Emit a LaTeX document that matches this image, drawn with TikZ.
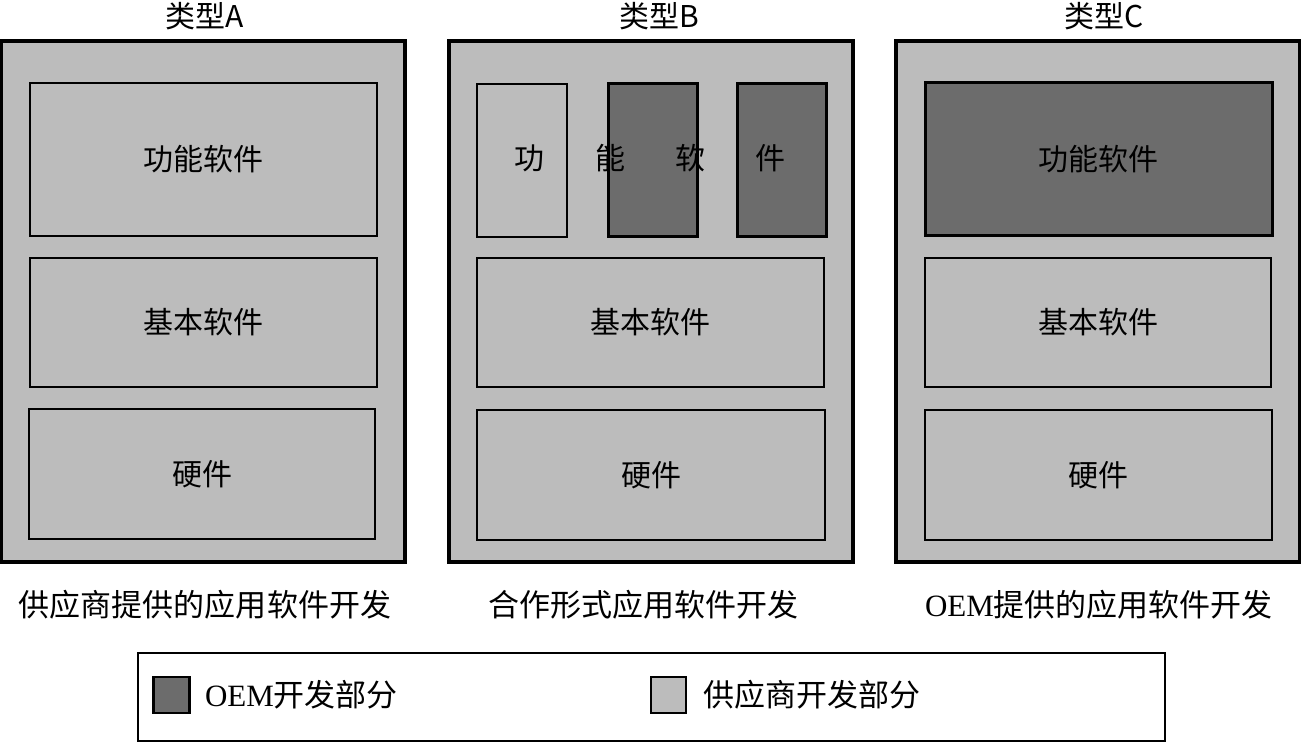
\documentclass[tikz,border=0pt]{standalone}
\usepackage{fontspec}
\setmainfont{Liberation Serif}
\newfontfamily\cjk{Noto Sans CJK SC}
\definecolor{lightg}{RGB}{188,188,188}
\definecolor{darkg}{RGB}{108,108,108}
\newcommand{\mybox}[7]{%
  \node[#6, minimum width={(#4-#2)*1pt}, minimum height={(#5-#3)*1pt}] (#1) at ({(#2+#4)/2},{(#3+#5)/2}) {#7};}
\begin{document}
\begin{tikzpicture}[x=1pt,y=-1pt,
  every node/.style={inner sep=0pt, outer sep=0pt, font=\fontsize{30}{36}\selectfont},
  panel/.style={draw, line width=3.2pt, fill=lightg, rectangle},
  sup/.style={draw, line width=2.8pt, fill=lightg, rectangle},
  oem/.style={draw, line width=3pt, fill=darkg, rectangle},
  lab/.style={},
  big/.style={font=\fontsize{31}{37}\selectfont},
]
\useasboundingbox (0,0) rectangle (1301,743);
% panels
\mybox{pA}{1.6}{41}{405}{562}{panel}{}
\mybox{pB}{449}{41}{853}{562}{panel}{}
\mybox{pC}{896}{41}{1299.4}{562}{panel}{}
% titles
\node[lab] (tA) at (205,16) {\cjk{类型}A};
\node[lab] (tB) at (659,16) {\cjk{类型}B};
\node[lab] (tC) at (1104,16) {\cjk{类型}C};
% panel A
\mybox{aF}{30}{83}{377}{236}{sup}{\cjk{功能软件}}
\mybox{aB}{30}{258}{377}{387}{sup}{\cjk{基本软件}}
\mybox{aH}{29}{409}{375}{539}{sup}{\cjk{硬件}}
% panel B
\mybox{bF1}{477}{84}{567}{237}{sup}{}
\mybox{bF2}{608}{84}{697}{237}{oem}{}
\mybox{bF3}{737}{84}{826}{237}{oem}{}
\node[lab] (bFt) at (650,158) {\cjk{功\hspace{51pt}能\hspace{50pt}软\hspace{50pt}件}};
\mybox{bB}{477}{258}{824}{387}{sup}{\cjk{基本软件}}
\mybox{bH}{477}{410}{825}{540}{sup}{\cjk{硬件}}
% panel C
\mybox{cF}{925}{83}{1272}{236}{oem}{\cjk{功能软件}}
\mybox{cB}{925}{258}{1271}{387}{sup}{\cjk{基本软件}}
\mybox{cH}{925}{410}{1272}{540}{sup}{\cjk{硬件}}
% captions
\node[lab, big] (capA) at (205,605) {\cjk{供应商提供的应用软件开发}};
\node[lab, big] (capB) at (643,605) {\cjk{合作形式应用软件开发}};
\node[lab, big] (capC) at (1099,605) {OEM\cjk{提供的应用软件开发}};
% legend
\mybox{leg}{138}{653}{1165}{741}{draw, line width=2pt, fill=white, rectangle}{}
\mybox{lgD}{153.5}{677}{189.5}{713}{oem, line width=2.5pt}{}
\node[lab, big, anchor=west] (lgDt) at (205,695) {OEM\cjk{开发部分}};
\mybox{lgL}{651}{677}{686}{713}{sup, line width=2.5pt}{}
\node[lab, big, anchor=west] (lgLt) at (703,695) {\cjk{供应商开发部分}};
\end{tikzpicture}
\end{document}
